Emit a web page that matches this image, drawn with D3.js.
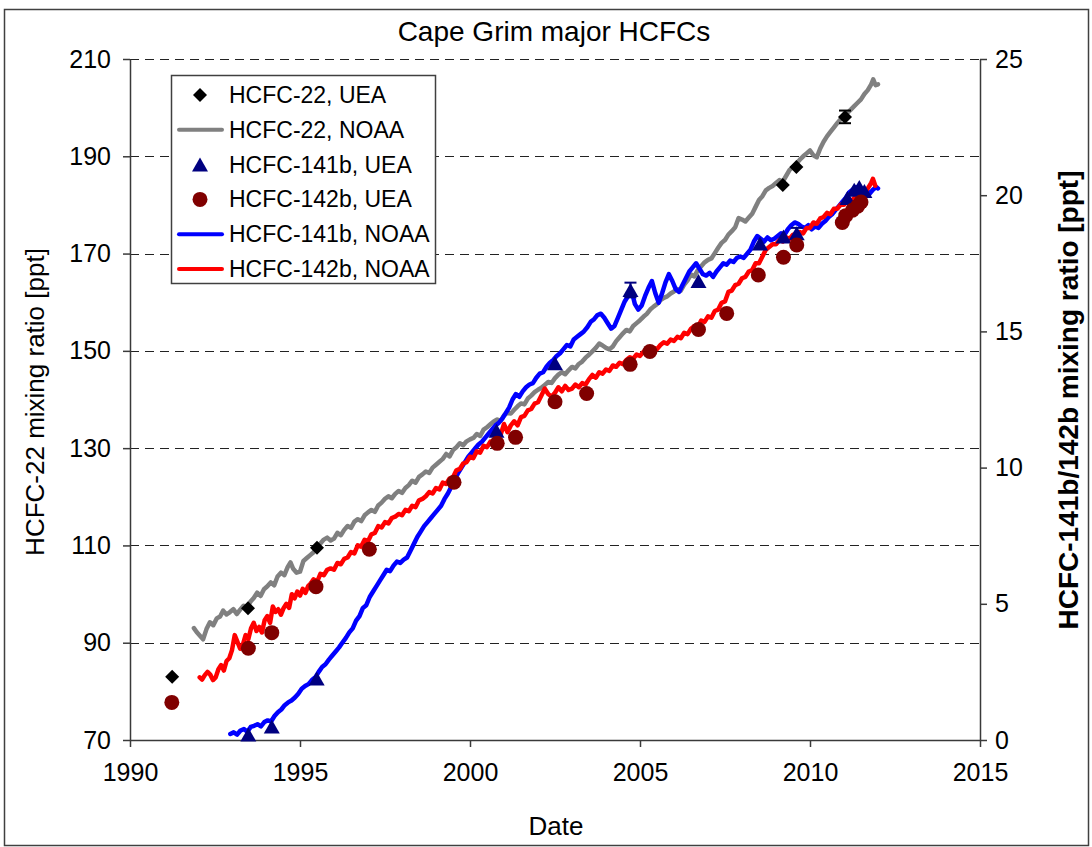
<!DOCTYPE html>
<html>
<head>
<meta charset="utf-8">
<script src="https://cdn.jsdelivr.net/npm/d3@7"></script>
<style>
  html, body { margin: 0; padding: 0; background: #fff; }
  svg text { font-family: "Liberation Sans", Arial, sans-serif; fill: #000; }
</style>
</head>
<body>
<svg id="chart" width="1092" height="847"></svg>
<script>
// ---- data ---------------------------------------------------------------
// HCFC-22 NOAA monthly record [year, ppt] (left axis)
const hcfc22Noaa = [
  [1991.88,93.0],[1991.96,92.2],[1992.05,91.5],[1992.15,90.7],[1992.25,92.8],[1992.35,94.2],
  [1992.45,93.6],[1992.55,95.0],[1992.65,95.4],[1992.74,96.6],[1992.84,95.8],[1992.94,96.3],
  [1993.04,96.9],[1993.14,95.9],[1993.24,96.8],[1993.34,97.6],[1993.44,97.2],[1993.54,98.4],
  [1993.64,99.2],[1993.74,100.3],[1993.84,99.6],[1993.94,101.0],[1994.04,101.6],[1994.14,102.4],
  [1994.24,101.8],[1994.34,103.6],[1994.44,104.4],[1994.54,103.9],[1994.64,105.6],[1994.72,106.5],
  [1994.8,105.2],[1994.9,104.4],[1995.0,104.6],[1995.1,106.8],[1995.2,107.4],[1995.3,108.0],
  [1995.4,108.6],[1995.5,109.9],[1995.6,110.4],[1995.7,111.2],[1995.8,111.6],[1995.9,111.0],
  [1996.0,111.4],[1996.1,112.6],[1996.2,112.1],[1996.3,113.2],[1996.4,114.0],[1996.5,113.6],
  [1996.6,114.9],[1996.7,115.4],[1996.8,115.0],[1996.9,116.2],[1997.0,116.8],[1997.1,117.3],
  [1997.2,116.9],[1997.3,118.2],[1997.4,118.8],[1997.5,119.6],[1997.6,120.1],[1997.7,119.7],
  [1997.8,120.6],[1997.9,121.2],[1998.0,120.8],[1998.1,121.8],[1998.2,122.4],[1998.3,123.3],
  [1998.4,122.9],[1998.5,124.1],[1998.6,124.6],[1998.7,125.2],[1998.8,124.9],[1998.9,126.0],
  [1999.0,126.6],[1999.1,127.2],[1999.2,127.8],[1999.3,128.8],[1999.4,128.3],[1999.5,129.6],
  [1999.6,130.2],[1999.7,131.0],[1999.8,130.6],[1999.9,131.4],[2000.0,131.8],[2000.1,132.1],
  [2000.2,132.9],[2000.3,132.5],[2000.4,133.8],[2000.5,134.3],[2000.6,134.9],[2000.7,135.5],
  [2000.8,135.9],[2000.9,135.6],[2001.0,136.7],[2001.1,137.3],[2001.2,137.1],[2001.3,137.9],
  [2001.4,138.6],[2001.5,139.2],[2001.6,139.0],[2001.7,140.2],[2001.8,140.8],[2001.9,141.5],
  [2002.0,142.0],[2002.1,142.4],[2002.2,143.0],[2002.3,143.6],[2002.4,143.4],[2002.5,144.4],
  [2002.6,145.1],[2002.7,145.6],[2002.8,145.2],[2002.9,146.0],[2003.0,146.7],[2003.1,146.4],
  [2003.2,147.3],[2003.3,147.8],[2003.4,148.6],[2003.5,149.2],[2003.6,149.9],[2003.7,150.6],
  [2003.8,151.5],[2003.9,151.1],[2004.0,150.6],[2004.1,150.3],[2004.2,150.9],[2004.3,152.0],
  [2004.4,152.8],[2004.5,153.6],[2004.6,154.3],[2004.7,154.0],[2004.8,155.1],[2004.9,155.7],
  [2005.0,156.3],[2005.1,157.0],[2005.2,157.6],[2005.3,158.5],[2005.4,159.1],[2005.5,159.6],
  [2005.6,160.4],[2005.7,160.9],[2005.8,161.2],[2005.9,161.8],[2006.0,162.2],[2006.1,162.7],
  [2006.2,162.4],[2006.3,163.6],[2006.4,164.5],[2006.5,165.7],[2006.6,165.3],[2006.7,166.6],
  [2006.8,167.4],[2006.9,168.2],[2007.0,168.7],[2007.1,169.0],[2007.2,170.1],[2007.3,171.2],
  [2007.4,172.2],[2007.5,172.8],[2007.6,173.9],[2007.7,174.6],[2007.8,175.4],[2007.9,177.3],
  [2008.0,177.0],[2008.1,176.6],[2008.2,177.4],[2008.3,178.2],[2008.4,179.6],[2008.5,181.0],
  [2008.6,181.8],[2008.7,183.0],[2008.8,183.5],[2008.9,183.9],[2009.0,184.5],[2009.1,185.1],
  [2009.2,184.8],[2009.3,186.0],[2009.4,187.2],[2009.5,187.8],[2009.6,188.5],[2009.7,189.3],
  [2009.8,190.0],[2009.9,190.6],[2010.0,191.2],[2010.1,190.2],[2010.2,189.8],[2010.3,191.6],
  [2010.4,193.0],[2010.5,194.1],[2010.6,195.0],[2010.7,195.9],[2010.8,196.8],[2010.9,197.6],
  [2011.0,198.4],[2011.1,198.9],[2011.2,199.6],[2011.3,200.3],[2011.4,201.0],[2011.5,201.7],
  [2011.6,202.8],[2011.7,203.6],[2011.8,204.8],[2011.86,205.8],[2011.93,204.6],[2012.0,204.8]
];

// HCFC-141b NOAA record [year, ppt] (right axis)
const hcfc141bNoaa = [
  [1992.95,0.22],[1993.05,0.28],[1993.15,0.2],[1993.25,0.35],[1993.35,0.4],[1993.45,0.3],
  [1993.55,0.48],[1993.65,0.52],[1993.75,0.58],[1993.85,0.5],[1993.95,0.66],[1994.05,0.72],
  [1994.15,0.68],[1994.25,0.88],[1994.35,1.02],[1994.45,1.12],[1994.55,1.28],[1994.65,1.38],
  [1994.75,1.45],[1994.85,1.56],[1994.95,1.7],[1995.05,1.88],[1995.15,1.98],[1995.25,2.05],
  [1995.35,2.2],[1995.45,2.3],[1995.55,2.5],[1995.65,2.68],[1995.75,2.78],[1995.85,2.95],
  [1995.95,3.1],[1996.05,3.25],[1996.15,3.4],[1996.25,3.58],[1996.35,3.75],[1996.45,3.95],
  [1996.55,4.1],[1996.65,4.38],[1996.75,4.55],[1996.85,4.85],[1996.95,4.95],[1997.05,5.25],
  [1997.15,5.45],[1997.25,5.65],[1997.35,5.85],[1997.45,6.05],[1997.55,6.25],[1997.65,6.2],
  [1997.75,6.4],[1997.85,6.55],[1997.95,6.5],[1998.05,6.62],[1998.15,6.7],[1998.25,6.95],
  [1998.35,7.2],[1998.45,7.45],[1998.55,7.65],[1998.65,7.85],[1998.75,8.0],[1998.85,8.15],
  [1998.95,8.3],[1999.05,8.45],[1999.15,8.6],[1999.25,8.85],[1999.35,9.05],[1999.45,9.3],
  [1999.55,9.55],[1999.65,9.8],[1999.75,10.0],[1999.85,10.2],[1999.95,10.4],[2000.05,10.55],
  [2000.15,10.7],[2000.25,10.85],[2000.35,10.95],[2000.45,11.1],[2000.55,11.25],[2000.65,11.4],
  [2000.75,11.55],[2000.85,11.65],[2000.95,11.8],[2001.05,12.0],[2001.15,12.2],[2001.25,12.5],
  [2001.35,12.7],[2001.45,12.6],[2001.55,12.8],[2001.65,12.95],[2001.75,13.05],[2001.85,13.1],
  [2001.95,13.3],[2002.05,13.45],[2002.15,13.5],[2002.25,13.7],[2002.35,13.85],[2002.45,13.95],
  [2002.55,14.1],[2002.65,14.2],[2002.75,14.35],[2002.85,14.5],[2002.95,14.45],[2003.05,14.7],
  [2003.15,14.8],[2003.25,14.9],[2003.35,15.0],[2003.45,15.15],[2003.55,15.35],[2003.65,15.45],
  [2003.75,15.6],[2003.85,15.65],[2003.95,15.5],[2004.05,15.3],[2004.15,15.1],[2004.25,15.2],
  [2004.35,15.5],[2004.45,15.8],[2004.55,16.1],[2004.65,16.3],[2004.75,16.5],[2004.85,16.0],
  [2004.95,15.8],[2005.05,15.95],[2005.15,16.3],[2005.25,16.6],[2005.35,16.85],[2005.45,16.4],
  [2005.55,16.05],[2005.65,16.4],[2005.75,16.8],[2005.85,17.1],[2005.95,16.85],[2006.05,16.55],
  [2006.15,16.45],[2006.25,16.7],[2006.35,16.95],[2006.45,17.2],[2006.55,17.35],[2006.65,17.5],
  [2006.75,17.3],[2006.85,17.1],[2006.95,17.05],[2007.05,17.15],[2007.15,17.0],[2007.25,17.2],
  [2007.35,17.35],[2007.45,17.5],[2007.55,17.45],[2007.65,17.6],[2007.75,17.55],[2007.85,17.7],
  [2007.95,17.75],[2008.05,17.7],[2008.15,17.85],[2008.25,18.0],[2008.35,18.3],[2008.45,18.5],
  [2008.55,18.4],[2008.65,18.3],[2008.75,18.45],[2008.85,18.35],[2008.95,18.4],[2009.05,18.5],
  [2009.15,18.6],[2009.25,18.55],[2009.35,18.75],[2009.45,18.9],[2009.55,19.0],[2009.65,18.95],
  [2009.75,18.85],[2009.85,18.8],[2009.95,18.9],[2010.05,18.75],[2010.15,18.85],[2010.25,18.8],
  [2010.35,18.95],[2010.45,19.05],[2010.55,19.2],[2010.65,19.3],[2010.75,19.45],[2010.85,19.6],
  [2010.95,19.75],[2011.05,19.9],[2011.15,20.1],[2011.25,20.2],[2011.35,20.3],[2011.45,20.2],
  [2011.55,20.1],[2011.65,20.2],[2011.75,20.05],[2011.85,20.2],[2011.95,20.3],[2012.0,20.25]
];

// HCFC-142b NOAA record [year, ppt] (right axis)
const hcfc142bNoaa = [
  [1992.05,2.3],[1992.12,2.22],[1992.2,2.38],[1992.28,2.5],[1992.36,2.4],[1992.44,2.2],
  [1992.52,2.3],[1992.6,2.6],[1992.68,2.75],[1992.76,2.55],[1992.84,2.9],[1992.92,3.0],
  [1993.0,3.3],[1993.08,3.85],[1993.16,3.6],[1993.24,3.35],[1993.32,3.5],[1993.4,3.85],
  [1993.48,3.7],[1993.56,4.1],[1993.64,4.3],[1993.72,4.0],[1993.8,4.15],[1993.88,3.95],
  [1993.96,4.4],[1994.04,4.55],[1994.12,4.3],[1994.2,4.9],[1994.28,4.7],[1994.36,4.8],
  [1994.44,4.6],[1994.52,4.85],[1994.6,5.0],[1994.68,4.85],[1994.76,5.35],[1994.84,5.2],
  [1994.92,5.45],[1995.0,5.3],[1995.08,5.55],[1995.16,5.4],[1995.24,5.65],[1995.32,5.75],
  [1995.4,5.9],[1995.5,5.8],[1995.6,6.1],[1995.7,6.05],[1995.8,6.25],[1995.9,6.3],
  [1996.0,6.25],[1996.1,6.5],[1996.2,6.45],[1996.3,6.65],[1996.4,6.7],[1996.5,6.9],
  [1996.6,6.85],[1996.7,7.15],[1996.8,7.1],[1996.9,7.35],[1997.0,7.3],[1997.1,7.55],
  [1997.2,7.6],[1997.3,7.85],[1997.4,7.8],[1997.5,8.0],[1997.6,7.95],[1997.7,8.15],
  [1997.8,8.2],[1997.9,8.3],[1998.0,8.25],[1998.1,8.45],[1998.2,8.4],[1998.3,8.6],
  [1998.4,8.55],[1998.5,8.8],[1998.6,8.85],[1998.7,8.95],[1998.8,9.1],[1998.9,9.05],
  [1999.0,9.25],[1999.1,9.2],[1999.2,9.45],[1999.3,9.4],[1999.4,9.6],[1999.5,9.65],
  [1999.6,9.9],[1999.7,9.95],[1999.8,10.15],[1999.9,10.2],[2000.0,10.4],[2000.1,10.35],
  [2000.2,10.6],[2000.3,10.55],[2000.4,10.8],[2000.5,10.75],[2000.6,10.95],[2000.7,10.85],
  [2000.8,11.1],[2000.9,11.2],[2001.0,11.6],[2001.1,11.3],[2001.2,11.55],[2001.3,11.7],
  [2001.4,11.55],[2001.5,11.85],[2001.6,11.9],[2001.7,12.1],[2001.8,12.15],[2001.9,12.35],
  [2002.0,12.4],[2002.1,12.65],[2002.2,12.9],[2002.3,12.7],[2002.4,12.6],[2002.5,12.75],
  [2002.6,12.95],[2002.7,12.8],[2002.8,13.0],[2002.9,12.85],[2003.0,12.9],[2003.1,13.05],
  [2003.2,12.95],[2003.3,13.1],[2003.4,13.05],[2003.5,13.25],[2003.6,13.4],[2003.7,13.3],
  [2003.8,13.5],[2003.9,13.45],[2004.0,13.6],[2004.1,13.55],[2004.2,13.75],[2004.3,13.7],
  [2004.4,13.85],[2004.5,13.8],[2004.6,13.95],[2004.7,14.05],[2004.8,14.0],[2004.9,14.15],
  [2005.0,14.1],[2005.1,14.25],[2005.2,14.3],[2005.3,14.25],[2005.4,14.4],[2005.5,14.35],
  [2005.6,14.5],[2005.7,14.6],[2005.8,14.55],[2005.9,14.7],[2006.0,14.65],[2006.1,14.8],
  [2006.2,14.75],[2006.3,14.95],[2006.4,14.9],[2006.5,15.1],[2006.6,15.2],[2006.7,15.15],
  [2006.8,15.4],[2006.9,15.35],[2007.0,15.55],[2007.1,15.5],[2007.2,15.75],[2007.3,15.8],
  [2007.4,16.05],[2007.5,16.1],[2007.6,16.45],[2007.7,16.5],[2007.8,16.7],[2007.9,16.75],
  [2008.0,16.95],[2008.1,17.0],[2008.2,17.2],[2008.3,17.25],[2008.4,17.5],[2008.5,17.5],
  [2008.6,17.75],[2008.7,18.0],[2008.8,18.1],[2008.9,18.2],[2009.0,18.2],[2009.1,18.35],
  [2009.2,18.3],[2009.3,18.45],[2009.4,18.4],[2009.5,18.55],[2009.6,18.5],[2009.7,18.65],
  [2009.8,18.6],[2009.9,18.8],[2010.0,18.8],[2010.1,19.0],[2010.2,18.95],[2010.3,19.15],
  [2010.4,19.2],[2010.5,19.35],[2010.6,19.3],[2010.7,19.5],[2010.8,19.5],[2010.9,19.65],
  [2011.0,19.65],[2011.1,19.8],[2011.2,19.75],[2011.3,19.9],[2011.4,19.95],[2011.5,20.0],
  [2011.6,20.1],[2011.7,20.25],[2011.8,20.45],[2011.85,20.6],[2011.92,20.35]
];

// UEA flask measurements
const hcfc22UeaYears  = [1991.24, 1993.47, 1995.5, 2009.2, 2009.6, 2011.03];
const hcfc22UeaValues = [83.0, 97.1, 109.5, 184.1, 187.8, 198.1];
const hcfc22UeaErrors = [0, 0, 0, 0, 0, 1.3];

const hcfc141bUeaYears  = [1993.48, 1994.17, 1995.49, 2000.78, 2002.5, 2004.72, 2006.72, 2008.53, 2009.22, 2009.61, 2011.1, 2011.3, 2011.45, 2011.6];
const hcfc141bUeaValues = [0.2, 0.5, 2.26, 11.35, 13.83, 16.52, 16.85, 18.23, 18.48, 18.6, 19.9, 20.2, 20.3, 20.15];
const hcfc141bUeaErrors = [0, 0, 0, 0, 0, 0.27, 0, 0, 0, 0.2, 0, 0, 0, 0];

const hcfc142bUeaYears  = [1991.23, 1993.48, 1994.17, 1995.47, 1997.04, 1999.53, 2000.8, 2001.34, 2002.5, 2003.43, 2004.71, 2005.29, 2006.72, 2007.55, 2008.48, 2009.22, 2009.61, 2010.95, 2011.05, 2011.25, 2011.4, 2011.5];
const hcfc142bUeaValues = [1.38, 3.37, 3.94, 5.63, 7.0, 9.46, 10.89, 11.11, 12.42, 12.72, 13.79, 14.26, 15.07, 15.66, 17.07, 17.72, 18.17, 19.0, 19.25, 19.45, 19.6, 19.75];

// axis ticks
const yearTicks = [1990, 1995, 2000, 2005, 2010, 2015];
const leftTicks = [70, 90, 110, 130, 150, 170, 190, 210];
const rightTicks = [0, 5, 10, 15, 20, 25];

const legendItems = [
  { label: "HCFC-22, UEA",     kind: "diamond" },
  { label: "HCFC-22, NOAA",    kind: "line", color: "#808080" },
  { label: "HCFC-141b, UEA",   kind: "triangle" },
  { label: "HCFC-142b, UEA",   kind: "circle" },
  { label: "HCFC-141b, NOAA",  kind: "line", color: "#0000FF" },
  { label: "HCFC-142b, NOAA",  kind: "line", color: "#FF0000" }
];

// ---- layout -------------------------------------------------------------
const svg = d3.select("#chart");
const plot = { left: 130, right: 980, top: 59, bottom: 740 };

const x  = d3.scaleLinear().domain([1990, 2015]).range([plot.left, plot.right]);
const yL = d3.scaleLinear().domain([70, 210]).range([plot.bottom, plot.top]);
const yR = d3.scaleLinear().domain([0, 25]).range([plot.bottom, plot.top]);

const COL = {
  gray: "#808080", blue: "#0000FF", red: "#FF0000",
  navy: "#000080", maroon: "#800000", axis: "#3a3a3a"
};

// outer frame
svg.append("rect")
  .attr("x", 4.5).attr("y", 9.5).attr("width", 1084).attr("height", 836)
  .attr("fill", "#fff").attr("stroke", "#404040").attr("stroke-width", 1.5);

// title
svg.append("text")
  .attr("x", 554).attr("y", 41).attr("text-anchor", "middle")
  .attr("font-size", 28).text("Cape Grim major HCFCs");

// dashed gridlines on the left-axis ticks
svg.append("g").selectAll("line")
  .data(leftTicks.filter(d => d > 70))
  .join("line")
  .attr("x1", plot.left).attr("x2", plot.right)
  .attr("y1", d => Math.round(yL(d)) + 0.5).attr("y2", d => Math.round(yL(d)) + 0.5)
  .attr("stroke", "#222").attr("stroke-width", 1).attr("stroke-dasharray", "9,6");

// axes
function styleAxis(g) {
  g.selectAll(".domain").attr("stroke", COL.axis).attr("stroke-width", 1.5);
  g.selectAll(".tick line").attr("stroke", COL.axis).attr("stroke-width", 1.5);
  g.selectAll(".tick text").attr("font-family", "Liberation Sans, Arial, sans-serif")
    .attr("font-size", 25).attr("fill", "#000");
}

svg.append("g")
  .attr("transform", `translate(${plot.left},0)`)
  .call(d3.axisLeft(yL).tickValues(leftTicks).tickSize(7).tickSizeOuter(0).tickPadding(12))
  .call(styleAxis);

svg.append("g")
  .attr("transform", `translate(${plot.right},0)`)
  .call(d3.axisRight(yR).tickValues(rightTicks).tickSize(7).tickSizeOuter(0).tickPadding(8))
  .call(styleAxis);

svg.append("g")
  .attr("transform", `translate(0,${plot.bottom})`)
  .call(d3.axisBottom(x).tickValues(yearTicks).tickFormat(d3.format("d"))
        .tickSize(7).tickSizeOuter(0).tickPadding(16))
  .call(styleAxis);

// axis titles
svg.append("text")
  .attr("transform", `translate(44,402) rotate(-90)`)
  .attr("text-anchor", "middle").attr("font-size", 26)
  .text("HCFC-22 mixing ratio [ppt]");

svg.append("text")
  .attr("transform", `translate(1078,400) rotate(-90)`)
  .attr("text-anchor", "middle").attr("font-size", 28).attr("font-weight", "bold")
  .text("HCFC-141b/142b mixing ratio [ppt]");

svg.append("text")
  .attr("x", 556).attr("y", 835).attr("text-anchor", "middle")
  .attr("font-size", 26).text("Date");

// ---- series -------------------------------------------------------------
const lineL = d3.line().x(d => x(d[0])).y(d => yL(d[1]));
const lineR = d3.line().x(d => x(d[0])).y(d => yR(d[1]));

const series = svg.append("g");
function drawLine(data, gen, color) {
  series.append("path").datum(data)
    .attr("d", gen).attr("fill", "none").attr("stroke", color)
    .attr("stroke-width", 4.5).attr("stroke-linejoin", "round").attr("stroke-linecap", "round");
}
drawLine(hcfc22Noaa, lineL, COL.gray);
drawLine(hcfc141bNoaa, lineR, COL.blue);
drawLine(hcfc142bNoaa, lineR, COL.red);

// marker shapes
const diamondPath = r => `M0,${-r}L${r},0L0,${r}L${-r},0Z`;
const trianglePath = (w, h) => `M0,${-h / 2}L${w / 2},${h / 2}L${-w / 2},${h / 2}Z`;

function errorBars(years, values, errors, scale, color) {
  const g = svg.append("g");
  years.forEach((yr, i) => {
    const e = errors[i];
    if (!e) return;
    const cx = x(yr), y1 = scale(values[i] - e), y2 = scale(values[i] + e);
    g.append("line").attr("x1", cx).attr("x2", cx).attr("y1", y1).attr("y2", y2)
      .attr("stroke", color).attr("stroke-width", 2);
    [y1, y2].forEach(yy => g.append("line")
      .attr("x1", cx - 6).attr("x2", cx + 6).attr("y1", yy).attr("y2", yy)
      .attr("stroke", color).attr("stroke-width", 2));
  });
}

errorBars(hcfc22UeaYears, hcfc22UeaValues, hcfc22UeaErrors, yL, "#000");
errorBars(hcfc141bUeaYears, hcfc141bUeaValues, hcfc141bUeaErrors, yR, COL.navy);

svg.append("g").selectAll("path")
  .data(hcfc22UeaYears.map((yr, i) => [yr, hcfc22UeaValues[i]]))
  .join("path")
  .attr("transform", d => `translate(${x(d[0])},${yL(d[1])})`)
  .attr("d", diamondPath(7)).attr("fill", "#000");

svg.append("g").selectAll("path")
  .data(hcfc141bUeaYears.map((yr, i) => [yr, hcfc141bUeaValues[i]]))
  .join("path")
  .attr("transform", d => `translate(${x(d[0])},${yR(d[1])})`)
  .attr("d", trianglePath(16, 14)).attr("fill", COL.navy);

svg.append("g").selectAll("circle")
  .data(hcfc142bUeaYears.map((yr, i) => [yr, hcfc142bUeaValues[i]]))
  .join("circle")
  .attr("cx", d => x(d[0])).attr("cy", d => yR(d[1])).attr("r", 7.5)
  .attr("fill", COL.maroon);

// ---- legend -------------------------------------------------------------
const legend = svg.append("g");
legend.append("rect")
  .attr("x", 171.5).attr("y", 75.5).attr("width", 264).attr("height", 208)
  .attr("fill", "#fff").attr("stroke", "#404040").attr("stroke-width", 1.5);

const legendRow = d3.scalePoint().domain(d3.range(legendItems.length)).range([95, 269]);

legendItems.forEach((item, i) => {
  const cy = legendRow(i);
  if (item.kind === "line") {
    legend.append("line").attr("x1", 179).attr("x2", 222).attr("y1", cy).attr("y2", cy)
      .attr("stroke", item.color).attr("stroke-width", 4).attr("stroke-linecap", "round");
  } else if (item.kind === "diamond") {
    legend.append("path").attr("transform", `translate(200,${cy})`)
      .attr("d", diamondPath(7)).attr("fill", "#000");
  } else if (item.kind === "triangle") {
    legend.append("path").attr("transform", `translate(200,${cy})`)
      .attr("d", trianglePath(16, 14)).attr("fill", COL.navy);
  } else {
    legend.append("circle").attr("cx", 200).attr("cy", cy).attr("r", 7.5)
      .attr("fill", COL.maroon);
  }
  legend.append("text").attr("x", 229).attr("y", cy + 8)
    .attr("font-size", 23).text(item.label);
});
</script>
</body>
</html>
